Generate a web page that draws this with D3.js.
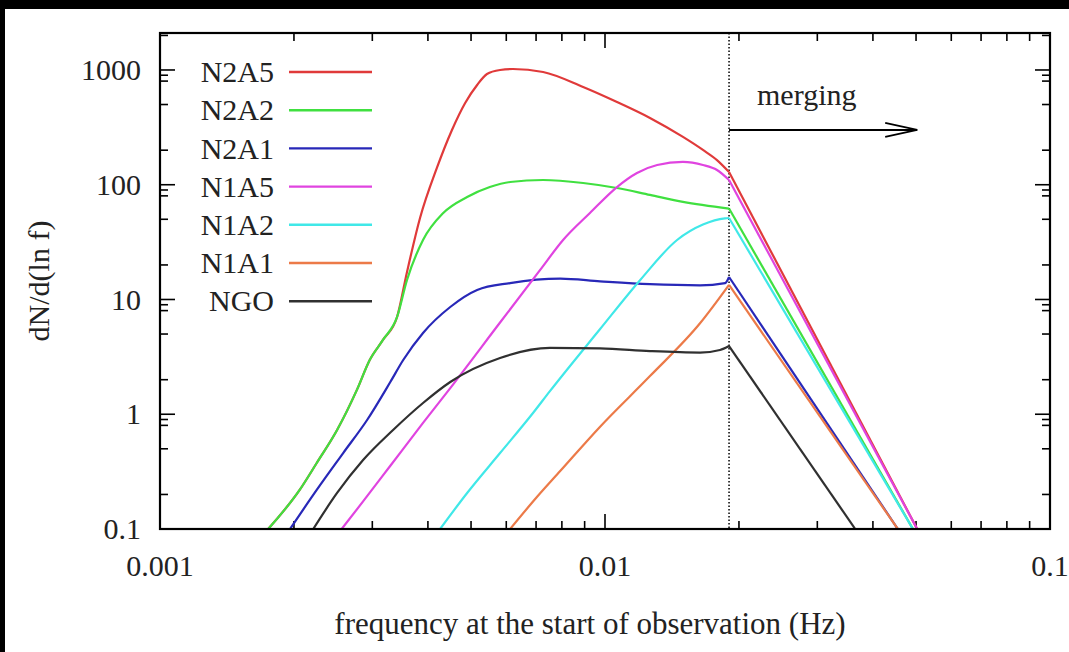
<!DOCTYPE html>
<html><head><meta charset="utf-8">
<script src="https://cdn.jsdelivr.net/npm/d3@7"></script>
<style>html,body{margin:0;padding:0;background:#000;} svg{display:block}</style>
</head><body>
<svg id="c" width="1069" height="652"></svg>
<script>
// ---------------- data ----------------
const seriesNames  = ["N2A5","N2A2","N2A1","N1A5","N1A2","N1A1","NGO"];
const seriesColors = ["#e03a3a","#40e040","#2828b8","#e044e0","#40e8e8","#ec7a48","#303030"];

const xTickValues = [0.001, 0.01, 0.1];
const xTickLabels = ["0.001", "0.01", "0.1"];
const yTickValues = [0.1, 1, 10, 100, 1000];
const yTickLabels = ["0.1", "1", "10", "100", "1000"];
const yMinorMultipliers = [2, 5, 8, 9];
const xMinorMultipliers = [2, 3, 4, 5, 6, 7, 8, 9];

const mergeFreq = 0.019;
const arrowEndFreq = 0.0503;
const arrowLevel = 300;

const freqN2A5 = [0.00175,0.00206,0.00225,0.0025,0.00277,0.00296,0.00317,0.00341,0.00359,0.00384,0.00419,0.00453,0.00485,0.00516,0.00543,0.00581,0.00621,0.00726,0.00893,0.01064,0.01262,0.01497,0.0166,0.01785,0.019,0.0503];
const valN2A5  = [0.1,0.219,0.376,0.729,1.63,2.97,4.44,7.04,17.4,51.3,140,300,516,740,923,1000,1020,961,711,526,382,261,201,164,129,0.1];

const freqN2A2 = [0.00175,0.00206,0.00225,0.0025,0.00277,0.00296,0.00317,0.00341,0.00359,0.0039,0.00433,0.0049,0.00551,0.00612,0.00726,0.00893,0.01064,0.01262,0.01497,0.019,0.0492];
const valN2A2  = [0.1,0.219,0.376,0.729,1.63,2.97,4.44,7.04,14.8,33.0,56.7,78.2,95.5,105.7,110,103.6,93.7,81.5,70.8,62,0.1];

const freqN2A1 = [0.00196,0.00225,0.00258,0.00292,0.00329,0.00352,0.0039,0.00449,0.00516,0.00612,0.00793,0.00975,0.01262,0.01635,0.01862,0.019,0.0455];
const valN2A1  = [0.1,0.219,0.459,0.891,1.9,2.97,5.11,8.6,12.1,13.9,15.2,14.4,13.6,13.3,13.9,15.7,0.1];

const freqN1A5 = [0.00256,0.00286,0.00329,0.0039,0.00449,0.00581,0.00715,0.00805,0.00925,0.01064,0.0118,0.0131,0.01497,0.0166,0.01785,0.019,0.0503];
const valN1A5  = [0.1,0.174,0.354,0.84,1.69,6.3,18.1,33,56.7,95.5,126.6,148.6,157.9,148.6,134.5,110,0.1];

const freqN1A2 = [0.00426,0.0049,0.00581,0.00689,0.00752,0.00975,0.012,0.01452,0.0166,0.0186,0.019,0.0492];
const valN1A2  = [0.1,0.206,0.459,1.025,1.59,5.53,14.8,33,45,51,51.3,0.1];

const freqN1A1 = [0.00612,0.00703,0.00793,0.00975,0.01262,0.01635,0.019,0.0455];
const valN1A1  = [0.1,0.19,0.32,0.78,2.15,6.2,13.4,0.1];

const freqNGO  = [0.00221,0.0025,0.00286,0.00334,0.0039,0.00449,0.00581,0.00752,0.00975,0.01262,0.01635,0.01813,0.019,0.0365];
const valNGO   = [0.1,0.206,0.399,0.729,1.253,1.91,3.09,3.78,3.75,3.55,3.45,3.63,3.93,0.1];

const seriesFreqs = [freqN2A5, freqN2A2, freqN2A1, freqN1A5, freqN1A2, freqN1A1, freqNGO];
const seriesVals  = [valN2A5, valN2A2, valN2A1, valN1A5, valN1A2, valN1A1, valNGO];

// ---------------- layout ----------------
const W = 1069, H = 652;
const L = 160, R = 1050, T = 33, B = 529;
const FONT = "'Liberation Serif','Times New Roman',serif";
const FS = 30;

const svg = d3.select("#c");
svg.append("rect").attr("x",5).attr("y",9).attr("width",W-5).attr("height",H-9).attr("fill","#fff");

const x = d3.scaleLog().domain([0.001, 0.1]).range([L, R]);
const y = d3.scaleLog().domain([0.1, 2100]).range([B, T]);

svg.append("defs").append("clipPath").attr("id","clip")
  .append("rect").attr("x",L).attr("y",T).attr("width",R-L).attr("height",B-T);

// ticks
const xMinor = [];
[0.001,0.01].forEach(d => xMinorMultipliers.forEach(m => xMinor.push(d*m)));
const yMinor = [];
[0.1,1,10,100,1000].forEach(d => yMinorMultipliers.forEach(m => { if (d*m <= 2100) yMinor.push(d*m); }));

const MAJ = 15, MIN = 8;
const tk = svg.append("g").attr("stroke","#000").attr("stroke-width",1.6);
function xtick(v, len){
  tk.append("line").attr("x1",x(v)).attr("x2",x(v)).attr("y1",B).attr("y2",B-len);
  tk.append("line").attr("x1",x(v)).attr("x2",x(v)).attr("y1",T).attr("y2",T+len);
}
function ytick(v, len){
  tk.append("line").attr("y1",y(v)).attr("y2",y(v)).attr("x1",L).attr("x2",L+len);
  tk.append("line").attr("y1",y(v)).attr("y2",y(v)).attr("x1",R).attr("x2",R-len);
}
xTickValues.forEach(v => xtick(v, MAJ));
xMinor.forEach(v => xtick(v, MIN));
yTickValues.forEach(v => ytick(v, MAJ));
yMinor.forEach(v => ytick(v, MIN));

// tick labels
const txt = svg.append("g").attr("font-family",FONT).attr("font-size",FS).attr("fill","#222");
xTickValues.forEach((v,i) => txt.append("text").attr("x",x(v)).attr("y",B+47).attr("text-anchor","middle").text(xTickLabels[i]));
yTickValues.forEach((v,i) => txt.append("text").attr("x",L-19).attr("y",y(v)).attr("dy","0.34em").attr("text-anchor","end").text(yTickLabels[i]));

// axis titles
txt.append("text").attr("x",(L+R)/2 - 15).attr("y",634).attr("text-anchor","middle").attr("font-size",31)
  .text("frequency at the start of observation (Hz)");
txt.append("text").attr("transform",`translate(49,${(T+B)/2}) rotate(-90)`).attr("text-anchor","middle").attr("font-size",30)
  .text("dN/d(ln f)");

// merging line
svg.append("line").attr("x1",x(mergeFreq)).attr("x2",x(mergeFreq)).attr("y1",T).attr("y2",B)
  .attr("stroke","#000").attr("stroke-width",1.5).attr("stroke-dasharray","1.5,2");

// curves
const plot = svg.append("g").attr("clip-path","url(#clip)");
const smooth = d3.line().x(d=>x(d[0])).y(d=>y(d[1])).curve(d3.curveMonotoneX);
const straight = d3.line().x(d=>x(d[0])).y(d=>y(d[1]));
seriesNames.forEach((name,i) => {
  const pts = seriesFreqs[i].map((f,j) => [f, seriesVals[i][j]]);
  const pre = pts.filter(p => p[0] <= mergeFreq);
  const post = pts.filter(p => p[0] >= mergeFreq);
  plot.append("path").attr("d",smooth(pre)).attr("fill","none").attr("stroke",seriesColors[i]).attr("stroke-width",2.2).attr("stroke-linejoin","round");
  plot.append("path").attr("d",straight(post)).attr("fill","none").attr("stroke",seriesColors[i]).attr("stroke-width",2.2);
});

// arrow
const ay = y(arrowLevel), ax0 = x(mergeFreq), ax1 = x(arrowEndFreq);
const ar = svg.append("g").attr("stroke","#000").attr("stroke-width",1.8).attr("fill","none");
ar.append("line").attr("x1",ax0).attr("x2",ax1).attr("y1",ay).attr("y2",ay);
ar.append("path").attr("d",`M${ax1-32},${ay-7} L${ax1},${ay} L${ax1-32},${ay+7}`);
txt.append("text").attr("x",ax0+28).attr("y",ay-25).text("merging");

// legend
const lg = svg.append("g");
seriesNames.forEach((name,i) => {
  const ly = 72 + i*38.2;
  lg.append("text").attr("x",274).attr("y",ly).attr("dy","0.34em").attr("text-anchor","end")
    .attr("font-family",FONT).attr("font-size",FS).attr("fill","#222").text(name);
  lg.append("line").attr("x1",289).attr("x2",372).attr("y1",ly).attr("y2",ly)
    .attr("stroke",seriesColors[i]).attr("stroke-width",2.4);
});

// frame
svg.append("rect").attr("x",L).attr("y",T).attr("width",R-L).attr("height",B-T)
  .attr("fill","none").attr("stroke","#000").attr("stroke-width",2.2);
</script>
</body></html>
